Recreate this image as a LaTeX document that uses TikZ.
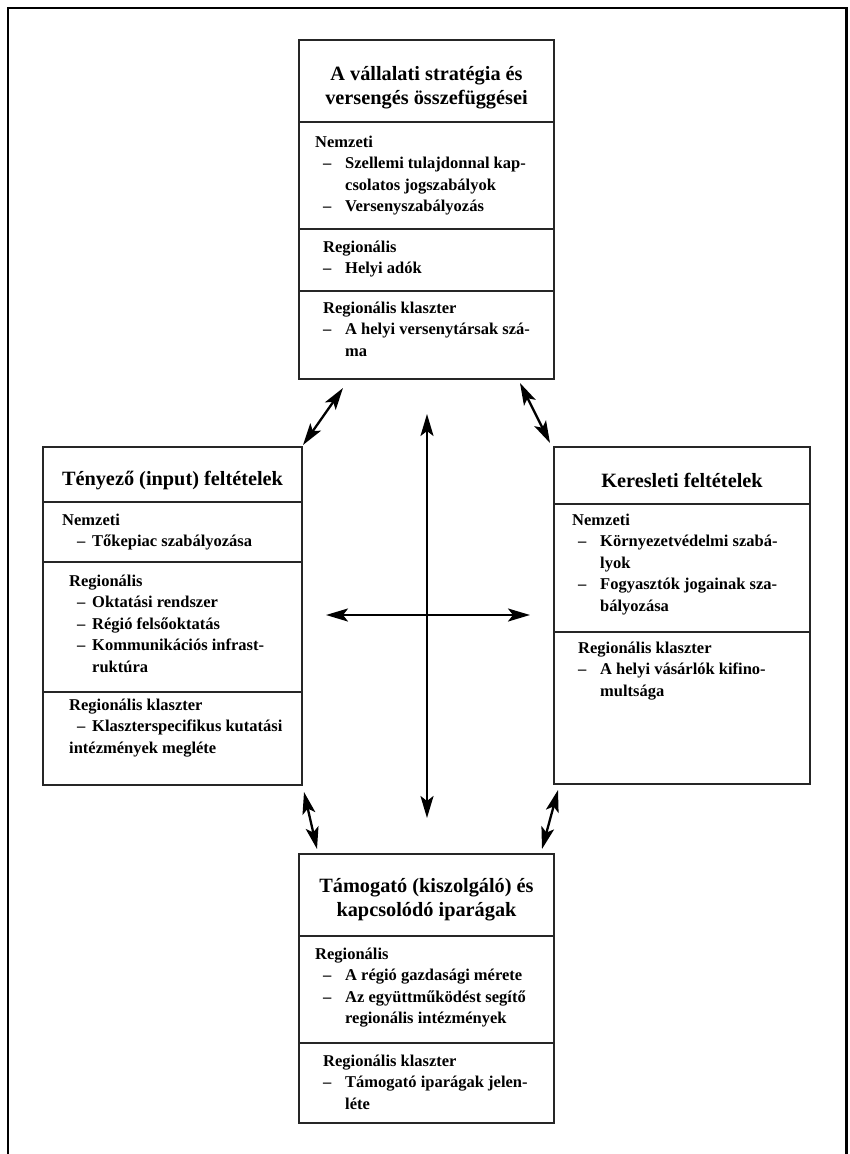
\documentclass[tikz,border=0pt]{standalone}
\usepackage{fontspec}
\setmainfont{Liberation Serif}
\usetikzlibrary{arrows.meta,calc}

% one bullet line: indent, width of the dash column, text
\newcommand{\lineitem}[3]{\hspace*{#1}\makebox[#2][l]{–}#3}

\tikzset{
  panel/.style={draw=black!85, line width=1.2pt, anchor=north west, inner sep=0pt, outer sep=0pt},
  divider/.style={draw=black!85, line width=1.2pt},
  frame/.style={draw=black, line width=2.8pt},
  ttl/.style={font=\fontsize{20.3}{24.5}\selectfont\bfseries, inner sep=0pt, anchor=base},
  sec/.style={font=\fontsize{16.5}{21.6}\selectfont\bfseries, inner sep=0pt, anchor=base west},
  link/.style={line width=2.3pt,
    {Stealth[length=22pt,width=13pt,inset=5pt]}-{Stealth[length=22pt,width=13pt,inset=5pt]}}
}

\begin{document}
\begin{tikzpicture}[x=1pt, y=-1pt]
\useasboundingbox (0,0) rectangle (849,1154);

% outer frame, open at the bottom
\draw[frame] (8,1156) -- (8,8) -- (846.5,8) -- (846.5,1156);

% the four panels
\node[panel, minimum width=255pt, minimum height=339pt] (top) at (299,40) {};
\node[panel, minimum width=259pt, minimum height=338pt] (left) at (43,447) {};
\node[panel, minimum width=256pt, minimum height=337pt] (right) at (554,447) {};
\node[panel, minimum width=255pt, minimum height=269pt] (bot) at (299,854) {};

% section dividers
\draw[divider] ($(top.north west)+(0,82)$) -- ($(top.north east)+(0,82)$);
\draw[divider] ($(top.north west)+(0,189)$) -- ($(top.north east)+(0,189)$);
\draw[divider] ($(top.north west)+(0,251)$) -- ($(top.north east)+(0,251)$);

\draw[divider] ($(left.north west)+(0,55)$) -- ($(left.north east)+(0,55)$);
\draw[divider] ($(left.north west)+(0,115)$) -- ($(left.north east)+(0,115)$);
\draw[divider] ($(left.north west)+(0,245)$) -- ($(left.north east)+(0,245)$);

\draw[divider] ($(right.north west)+(0,57)$) -- ($(right.north east)+(0,57)$);
\draw[divider] ($(right.north west)+(0,185)$) -- ($(right.north east)+(0,185)$);

\draw[divider] ($(bot.north west)+(0,82)$) -- ($(bot.north east)+(0,82)$);
\draw[divider] ($(bot.north west)+(0,189)$) -- ($(bot.north east)+(0,189)$);

% titles
\node[ttl] (toptitle) at (426.5,80) {\begin{tabular}[t]{@{}c@{}}A vállalati stratégia és\\ versengés összefüggései\end{tabular}};
\node[ttl] (lefttitle) at (172.5,485) {Tényező (input) feltételek};
\node[ttl] (righttitle) at (682,487) {Keresleti feltételek};
\node[ttl] (bottitle) at (426.5,892) {\begin{tabular}[t]{@{}c@{}}Támogató (kiszolgáló) és\\ kapcsolódó iparágak\end{tabular}};

% top panel sections
\node[sec] (tn) at (315,147) {\begin{tabular}[t]{@{}l@{}}Nemzeti\\
  \lineitem{8pt}{22pt}{Szellemi tulajdonnal kap-}\\
  \hspace*{30pt}csolatos jogszabályok\\
  \lineitem{8pt}{22pt}{Versenyszabályozás}\end{tabular}};
\node[sec] (tr) at (323,252) {\begin{tabular}[t]{@{}l@{}}Regionális\\
  \lineitem{0pt}{22pt}{Helyi adók}\end{tabular}};
\node[sec] (tk) at (323,313) {\begin{tabular}[t]{@{}l@{}}Regionális klaszter\\
  \lineitem{0pt}{22pt}{A helyi versenytársak szá-}\\
  \hspace*{22pt}ma\end{tabular}};

% left panel sections
\node[sec] (ln) at (62,525) {\begin{tabular}[t]{@{}l@{}}Nemzeti\\
  \lineitem{15pt}{15pt}{Tőkepiac szabályozása}\end{tabular}};
\node[sec] (lr) at (69,586) {\begin{tabular}[t]{@{}l@{}}Regionális\\
  \lineitem{8pt}{15pt}{Oktatási rendszer}\\
  \lineitem{8pt}{15pt}{Régió felsőoktatás}\\
  \lineitem{8pt}{15pt}{Kommunikációs infrast-}\\
  \hspace*{23pt}ruktúra\end{tabular}};
\node[sec] (lk) at (69,710) {\begin{tabular}[t]{@{}l@{}}Regionális klaszter\\
  \lineitem{8pt}{15pt}{Klaszterspecifikus kutatási}\\
  intézmények megléte\end{tabular}};

% right panel sections
\node[sec] (rn) at (572,525) {\begin{tabular}[t]{@{}l@{}}Nemzeti\\
  \lineitem{6pt}{22pt}{Környezetvédelmi szabá-}\\
  \hspace*{28pt}lyok\\
  \lineitem{6pt}{22pt}{Fogyasztók jogainak sza-}\\
  \hspace*{28pt}bályozása\end{tabular}};
\node[sec] (rk) at (578,653) {\begin{tabular}[t]{@{}l@{}}Regionális klaszter\\
  \lineitem{0pt}{22pt}{A helyi vásárlók kifino-}\\
  \hspace*{22pt}multsága\end{tabular}};

% bottom panel sections
\node[sec] (bn) at (315,959) {\begin{tabular}[t]{@{}l@{}}Regionális\\
  \lineitem{8pt}{22pt}{A régió gazdasági mérete}\\
  \lineitem{8pt}{22pt}{Az együttműködést segítő}\\
  \hspace*{30pt}regionális intézmények\end{tabular}};
\node[sec] (bk) at (323,1066) {\begin{tabular}[t]{@{}l@{}}Regionális klaszter\\
  \lineitem{0pt}{22pt}{Támogató iparágak jelen-}\\
  \hspace*{22pt}léte\end{tabular}};

% interaction arrows between the panels
\draw[link] ($(left.north east)+(1,-2)$) -- ($(top.south west)+(44,9)$);
\draw[link] ($(top.south east)+(-34,4)$) -- ($(right.north west)+(-4,-4)$);
\draw[link] ($(left.south east)+(2,7)$) -- ($(bot.north west)+(18,-5)$);
\draw[link] ($(right.south west)+(4,6)$) -- ($(bot.north east)+(-12,-5)$);

% central cross
\coordinate (vtop) at ($(top.south)+(0.5,35)$);
\coordinate (vbot) at ($(bot.north)+(0.5,-36)$);
\coordinate (hleft) at (326,615);
\coordinate (hright) at (530,615);
\draw[link] (vbot) -- (vtop);
\draw[link] (hleft) -- (hright);
\end{tikzpicture}
\end{document}
